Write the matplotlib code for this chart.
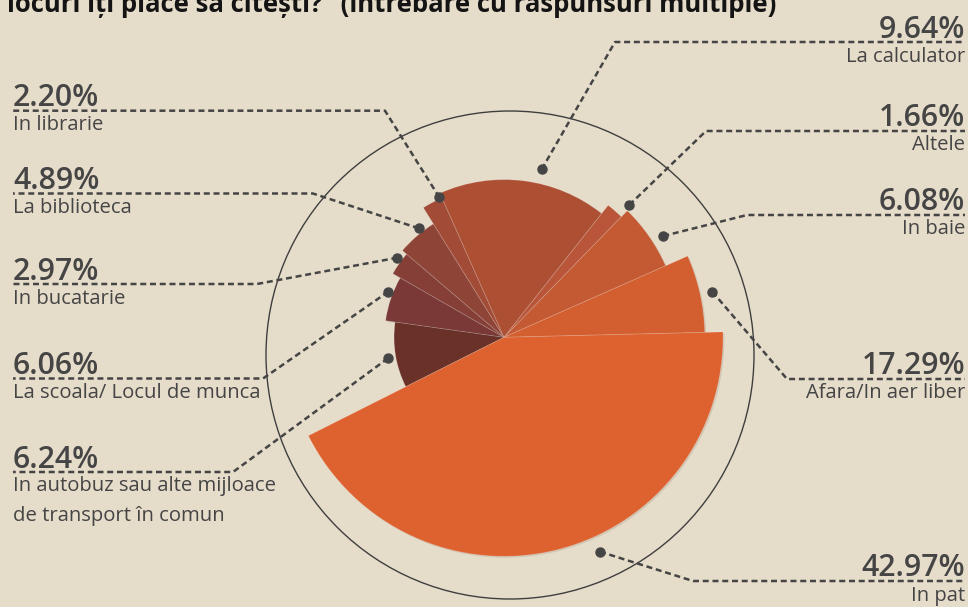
import numpy as np
import matplotlib
matplotlib.use("Agg")
import matplotlib.pyplot as plt
from matplotlib.patches import Wedge, Circle
import matplotlib.patheffects as pe

# ---------------- data ----------------
# slices in drawing order (counter-clockwise, starting with "In pat")
slice_values = [42.97, 6.24, 6.08, 1.66, 17.29, 2.20, 4.89, 2.97, 6.06, 9.64]
slice_radius = [100, 91.7, 80.7, 76.8, 72.0, 69.7, 61.0, 58.5, 54.6, 50.2]  # relative radius (%)
slice_colors = ["#DE6230", "#D35F30", "#C45A33", "#B9563A", "#AC4F33",
                "#A24C38", "#8E4437", "#853F36", "#7A3936", "#6A3128"]

# labels, one per slice (same order)
label_names = ["In pat", "Afara/In aer liber", "In baie", "Altele", "La calculator",
               "In librarie", "La biblioteca", "In bucatarie", "La scoala/ Locul de munca",
               "In autobuz sau alte mijloace\nde transport în comun"]
label_values = [42.97, 17.29, 6.08, 1.66, 9.64, 2.20, 4.89, 2.97, 6.06, 6.24]
label_side = ["right", "right", "right", "right", "right", "left", "left", "left", "left", "left"]

title_text = "locuri îți place să citești?” (întrebare cu răspunsuri multiple)"

# ---------------- layout ----------------
W, H = 968, 607
BG = "#E6DCCA"
INK = "#454545"
cx, cy = 504, 337.3           # pie centre (pixels, y down)
r_full = 219                  # pixel radius for relative radius 100
end_angle_first = 1.4         # where the first slice ends (deg, CCW)

# annotation layout: (dot x, dot y), (bend x, line y)
dots = [(600, 551.7), (712.3, 291.7), (663.3, 236), (629.3, 205), (541.7, 169.3),
        (439.3, 197.3), (418.7, 228.3), (397.3, 257.7), (388.3, 291.7), (388, 358.3)]
bends = [(693, 581), (787, 379), (747, 215), (706, 131), (615, 42),
         (385, 110.7), (313, 193.5), (257, 284), (263, 378.5), (233, 472)]
x_right, x_left = 965, 13

plt.rcParams['font.family'] = ['Open Sans', 'DejaVu Sans']

fig = plt.figure(figsize=(W / 100, H / 100), dpi=100, facecolor=BG)
ax = fig.add_axes([0, 0, 1, 1])
ax.set_facecolor(BG)
ax.set_xlim(0, W)
ax.set_ylim(H, 0)
ax.axis("off")

# outer ring
ax.add_patch(Circle((510, 355), 244, fill=False, ec="#3f3f3f", lw=1.0, zorder=1))

# slices (visual angles CCW; y axis is inverted so negate)
vals = np.array(slice_values)
spans = vals / vals.sum() * 360.0
start = end_angle_first - spans[0]
bounds = []
a = start
for s in spans:
    bounds.append((a, a + s))
    a += s

order = np.argsort(slice_radius)
for i in order:
    a1, a2 = bounds[i]
    r = slice_radius[i] / 100.0 * r_full
    w = Wedge((cx, cy), r, -a2, -a1, fc=slice_colors[i], ec=(1, 1, 1, 0.18), lw=0.6, zorder=3)
    w.set_path_effects([pe.SimplePatchShadow(offset=(1.0, -1.0), shadow_rgbFace="#3a2a1a", alpha=0.12),
                        pe.Normal()])
    ax.add_patch(w)

# leader lines and labels
dash = (0, (2.4, 1.5))
for i in range(len(label_names)):
    dx, dy = dots[i]
    bx, by = bends[i]
    xe = x_right if label_side[i] == "right" else x_left
    ax.plot([dx, bx, xe], [dy, by, by], color=INK, lw=1.8, linestyle=dash,
            solid_capstyle="butt", dash_capstyle="butt", zorder=4)
    ax.plot([dx], [dy], "o", color=INK, ms=6.5, zorder=5)
    ha = "right" if label_side[i] == "right" else "left"
    ax.text(xe, by - 4.5, f"{label_values[i]:.2f}%", ha=ha, va="baseline",
            fontsize=21.8, fontweight="semibold", color=INK, zorder=6)
    for k, line in enumerate(label_names[i].split("\n")):
        ax.text(xe, by + 19.5 + 30 * k, line, ha=ha, va="baseline",
                fontsize=14.6, color=INK, zorder=6)

# (cut) title
ax.text(7, 12.5, title_text, ha="left", va="baseline", fontsize=18.5,
        fontweight="bold", color="#141414", zorder=6)

fig.savefig("out.png", dpi=100, facecolor=BG)
